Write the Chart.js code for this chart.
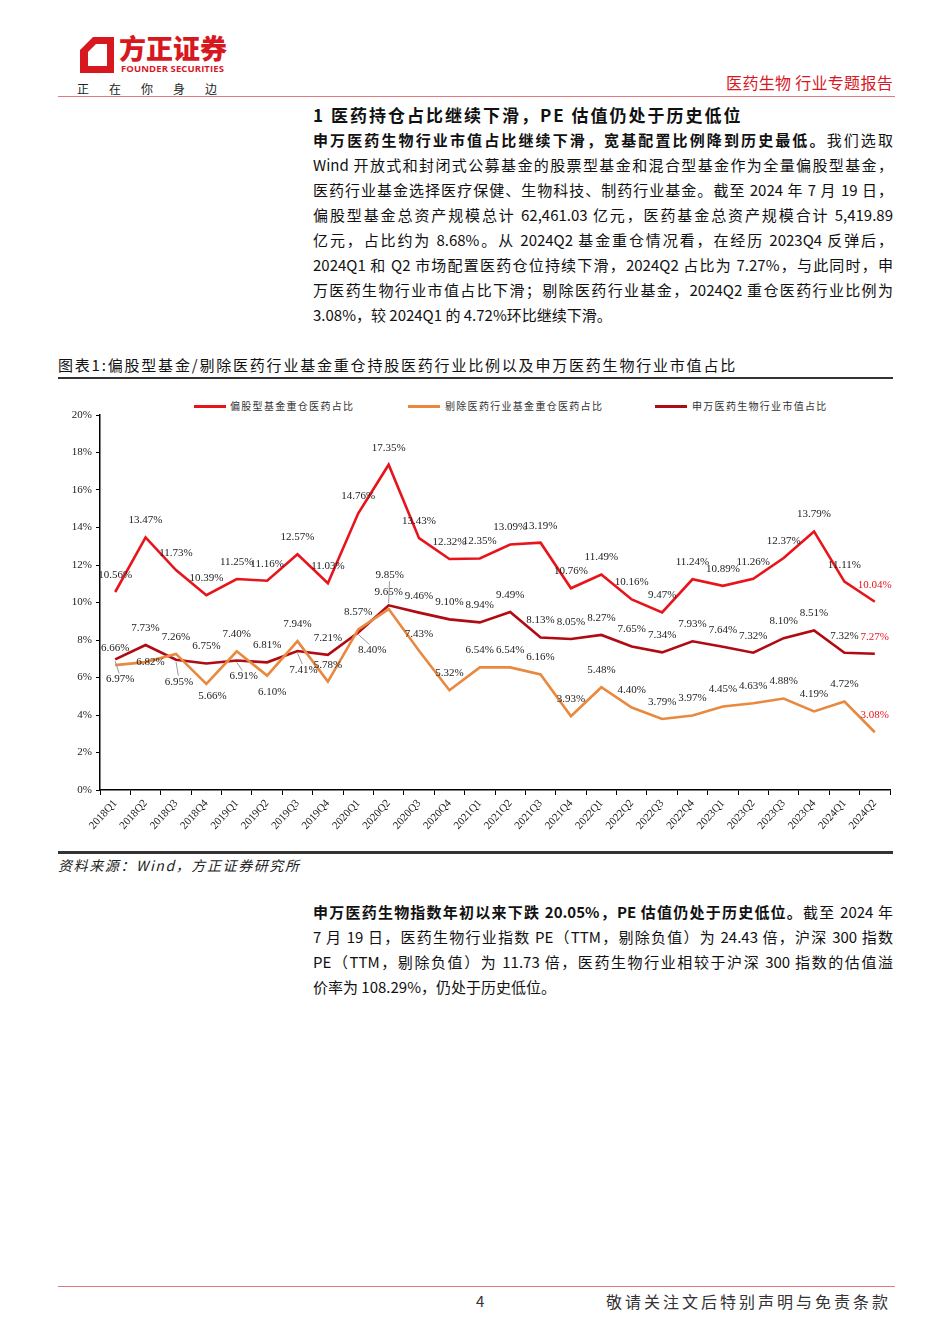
<!DOCTYPE html>
<html>
<head>
<meta charset="utf-8">
<script src="https://cdn.jsdelivr.net/npm/chart.js@4.4.1/dist/chart.umd.min.js"></script>
<style>
  body { margin: 0; background: #fff; }
  #page { position: relative; width: 950px; height: 1344px; font-family: "Noto Sans CJK SC", sans-serif; color: #111; }
  .abs { position: absolute; }
  .line { height: 25px; line-height: 25px; font-size: 15px; text-align: justify; text-align-last: justify; white-space: nowrap; }
  .line.last { text-align-last: left; }
  .b { font-weight: 700; }
  .leg { position: absolute; top: 399px; font-size: 10px; letter-spacing: 1.3px; color: #333; line-height: 14px; }
  .leg i { position: absolute; top: 6px; width: 32px; height: 3px; }
</style>
</head>
<body>
<div id="page">
  <!-- header -->
  <svg class="abs" style="left:80px;top:37px" width="34" height="36" viewBox="0 0 34 36">
    <path fill="#d7191f" fill-rule="evenodd" d="M13 0 H34 V36 H0 V13 Z M8 15 V29 H27 V7 H16 Z"/>
  </svg>
  <div class="abs" style="left:119px;top:31px;font-size:27px;font-weight:900;color:#d7191f;line-height:34px">方正证券</div>
  <div class="abs" style="left:121px;top:63px;font-size:9.5px;font-weight:700;color:#d7191f;font-family:'Open Sans',sans-serif;letter-spacing:0.1px;line-height:11px">FOUNDER SECURITIES</div>
  <div class="abs" style="left:77px;top:81px;font-size:12px;color:#222;letter-spacing:20px;line-height:16px">正在你身边</div>
  <div class="abs" style="right:57px;top:71px;font-size:16px;color:#d7191f;line-height:22px;letter-spacing:0.3px">医药生物 行业专题报告</div>
  <div class="abs" style="left:58px;top:96px;width:837px;height:1px;background:#e07a7e"></div>

  <!-- section heading -->
  <div class="abs b" style="left:313px;top:103px;font-size:17px;letter-spacing:2px;line-height:24px">1 医药持仓占比继续下滑，PE 估值仍处于历史低位</div>

  <div class="abs" style="left:313px;top:127px;width:580px">
    <div class="line"><span class="b">申万医药生物行业市值占比继续下滑，宽基配置比例降到历史最低。</span>我们选取</div>
    <div class="line">Wind 开放式和封闭式公募基金的股票型基金和混合型基金作为全量偏股型基金，</div>
    <div class="line">医药行业基金选择医疗保健、生物科技、制药行业基金。截至 2024 年 7 月 19 日，</div>
    <div class="line">偏股型基金总资产规模总计 62,461.03 亿元，医药基金总资产规模合计 5,419.89</div>
    <div class="line">亿元，占比约为 8.68%。从 2024Q2 基金重仓情况看，在经历 2023Q4 反弹后，</div>
    <div class="line">2024Q1 和 Q2 市场配置医药仓位持续下滑，2024Q2 占比为 7.27%，与此同时，申</div>
    <div class="line">万医药生物行业市值占比下滑；剔除医药行业基金，2024Q2 重仓医药行业比例为</div>
    <div class="line last">3.08%，较 2024Q1 的 4.72%环比继续下滑。</div>
  </div>

  <!-- chart title -->
  <div class="abs" style="left:58px;top:354px;font-size:15px;letter-spacing:1.8px;line-height:22px;color:#111">图表1:偏股型基金/剔除医药行业基金重仓持股医药行业比例以及申万医药生物行业市值占比</div>
  <div class="abs" style="left:58px;top:377px;width:835px;height:2px;background:#333"></div>

  <!-- legend -->
  <div class="leg" style="left:194px"><i style="left:0;background:#e8141c"></i><span style="margin-left:36px">偏股型基金重仓医药占比</span></div>
  <div class="leg" style="left:408px"><i style="left:0;background:#e8893f"></i><span style="margin-left:37px">剔除医药行业基金重仓医药占比</span></div>
  <div class="leg" style="left:655px"><i style="left:0;background:#b00a12"></i><span style="margin-left:37px">申万医药生物行业市值占比</span></div>

  <div class="abs" style="left:58px;top:395px;width:840px;height:450px">
    <canvas id="chart"></canvas>
  </div>

  <div class="abs" style="left:58px;top:851px;width:835px;height:3px;background:#333"></div>
  <div class="abs" style="left:58px;top:855px;font-size:14px;font-style:italic;letter-spacing:1.6px;line-height:20px;color:#222">资料来源：Wind，方正证券研究所</div>

  <div class="abs" style="left:313px;top:899px;width:580px">
    <div class="line"><span class="b">申万医药生物指数年初以来下跌 20.05%，PE 估值仍处于历史低位。</span>截至 2024 年</div>
    <div class="line">7 月 19 日，医药生物行业指数 PE（TTM，剔除负值）为 24.43 倍，沪深 300 指数</div>
    <div class="line">PE（TTM，剔除负值）为 11.73 倍，医药生物行业相较于沪深 300 指数的估值溢</div>
    <div class="line last">价率为 108.29%，仍处于历史低位。</div>
  </div>

  <!-- footer -->
  <div class="abs" style="left:58px;top:1286px;width:837px;height:1px;background:#e07a7e"></div>
  <div class="abs" style="left:476px;top:1290px;font-size:15px;line-height:22px;color:#333">4</div>
  <div class="abs" style="left:606px;top:1290px;font-size:16px;letter-spacing:3px;line-height:22px;color:#333">敬请关注文后特别声明与免责条款</div>
</div>

<script>
// quarters
const quarters = ['2018Q1','2018Q2','2018Q3','2018Q4','2019Q1','2019Q2','2019Q3','2019Q4',
  '2020Q1','2020Q2','2020Q3','2020Q4','2021Q1','2021Q2','2021Q3','2021Q4',
  '2022Q1','2022Q2','2022Q3','2022Q4','2023Q1','2023Q2','2023Q3','2023Q4','2024Q1','2024Q2'];

// 偏股型基金重仓医药占比 (%)
const equityFundPharma = [10.56,13.47,11.73,10.39,11.25,11.16,12.57,11.03,14.76,17.35,13.43,12.32,12.35,
  13.09,13.19,10.76,11.49,10.16,9.47,11.24,10.89,11.26,12.37,13.79,11.11,10.04];

// 剔除医药行业基金重仓医药占比 (%)
const exPharmaFundPharma = [6.66,6.82,7.26,5.66,7.40,6.10,7.94,5.78,8.57,9.65,7.43,5.32,6.54,
  6.54,6.16,3.93,5.48,4.40,3.79,3.97,4.45,4.63,4.88,4.19,4.72,3.08];

// 申万医药生物行业市值占比 (%)
const swPharmaMktCap = [6.97,7.73,6.95,6.75,6.91,6.81,7.41,7.21,8.40,9.85,9.46,9.10,8.94,
  9.49,8.13,8.05,8.27,7.65,7.34,7.93,7.64,7.32,8.10,8.51,7.32,7.27];

const seriesNames = ['偏股型基金重仓医药占比', '剔除医药行业基金重仓医药占比', '申万医药生物行业市值占比'];
const seriesColors = ['#e8141c', '#e8893f', '#b00a12'];

// label placement: default dy, plus per-point [dx, dy, leaderLine]
const labelPlace = [
  { dy: -17, fix: {} },
  { dy: -17, fix: { 1: [5, 0], 3: [6, 12], 5: [5, 16] } },
  { dy: -17, fix: { 0: [5, 20, 1], 2: [3, 22, 1], 4: [7, 16, 1], 6: [6, 19, 1], 8: [14, 18, 1], 9: [1, -30, 1] } }
];

const pointLabels = {
  id: 'pointLabels',
  afterDatasetsDraw(chart) {
    const ctx = chart.ctx;
    ctx.save();
    ctx.font = '11px "Liberation Serif"';
    ctx.textAlign = 'center';
    ctx.textBaseline = 'middle';
    chart.data.datasets.forEach((ds, di) => {
      const meta = chart.getDatasetMeta(di);
      const place = labelPlace[di];
      meta.data.forEach((pt, i) => {
        const f = place.fix[i] || [0, place.dy, 0];
        const lx = pt.x + f[0], ly = pt.y + f[1];
        if (f[2]) {
          ctx.strokeStyle = '#999';
          ctx.lineWidth = 1;
          ctx.beginPath();
          const dir = f[1] > 0 ? 1 : -1;
          ctx.moveTo(pt.x, pt.y + dir * 2);
          ctx.lineTo(lx - f[0] * 0.2, ly - dir * 6);
          ctx.stroke();
        }
        ctx.fillStyle = i === meta.data.length - 1 ? '#e8141c' : '#222';
        ctx.fillText(ds.data[i].toFixed(2) + '%', lx, ly);
      });
    });
    ctx.restore();
  }
};

const mk = (label, data, color) => ({
  label, data, borderColor: color, backgroundColor: color,
  borderWidth: 2.6, pointRadius: 0, tension: 0, fill: false
});

new Chart(document.getElementById('chart'), {
  type: 'line',
  data: {
    labels: quarters,
    datasets: [
      mk(seriesNames[0], equityFundPharma, seriesColors[0]),
      mk(seriesNames[1], exPharmaFundPharma, seriesColors[1]),
      mk(seriesNames[2], swPharmaMktCap, seriesColors[2])
    ]
  },
  options: {
    responsive: true,
    maintainAspectRatio: false,
    animation: false,
    layout: { padding: { top: 20, right: 8, left: 0, bottom: 0 } },
    plugins: { legend: { display: false }, tooltip: { enabled: false } },
    scales: {
      x: {
        offset: true,
        grid: { offset: true, drawOnChartArea: false, drawTicks: true, tickLength: 5, color: '#000' },
        border: { display: true, color: '#000', width: 1.5 },
        ticks: { minRotation: 48, maxRotation: 48, autoSkip: false, color: '#222', padding: 2,
          font: { family: 'Liberation Serif', size: 11 } },
        afterFit(scale) { scale.height = 55; }
      },
      y: {
        min: 0, max: 20,
        grid: { drawOnChartArea: false, drawTicks: true, tickLength: 4, color: '#000' },
        border: { display: true, color: '#000', width: 1.5 },
        ticks: { stepSize: 2, color: '#222', padding: 4, callback: v => v + '%',
          font: { family: 'Liberation Serif', size: 11 } },
        afterFit(scale) { scale.width = 42; }
      }
    }
  },
  plugins: [pointLabels]
});
</script>
</body>
</html>
